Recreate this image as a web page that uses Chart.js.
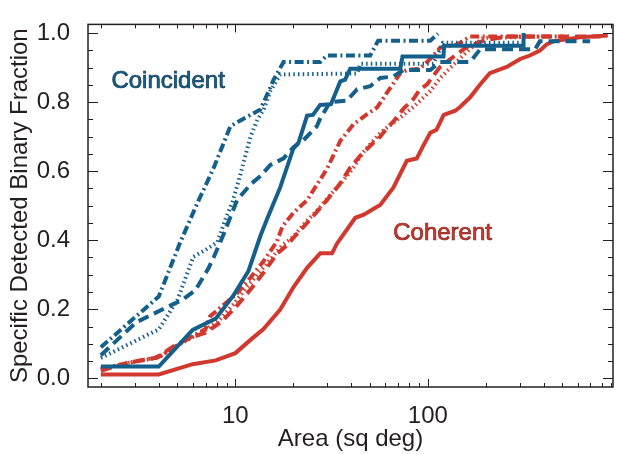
<!DOCTYPE html>
<html>
<head>
<meta charset="utf-8">
<script src="https://cdn.jsdelivr.net/npm/chart.js@4"></script>
<style>
  html, body { margin: 0; padding: 0; background: #fff; }
  #wrap { width: 618px; height: 454px; position: relative; }
</style>
</head>
<body>
<div id="wrap"><canvas id="chartFraction"></canvas></div>
<script>
// ---- data ----
// Coincident (blue)
const coinSolidX   = [2.0, 4.0, 6.0, 7.9, 9.8, 11.7, 13.5, 14.6, 17.1, 20.0, 21.3, 23.6, 25.3, 27.6, 31.4, 35.1, 37.2, 39.5, 71.9, 73.9, 120.6, 121.6, 312.6, 314.5];
const coinSolidY   = [0.034, 0.034, 0.14, 0.173, 0.241, 0.311, 0.413, 0.461, 0.553, 0.665, 0.683, 0.761, 0.763, 0.792, 0.794, 0.860, 0.865, 0.897, 0.897, 0.932, 0.932, 0.963, 0.963, 1.0];
const coinDashX    = [2.0, 3.05, 4.33, 5.29, 6.2, 7.27, 7.71, 8.7, 10.2, 12.0, 13.5, 15.2, 17.8, 20.1, 22.6, 26.5, 27.6, 31.1, 37.9, 42.9, 50.2, 56.6, 66.0, 74.8, 103, 116, 166, 187, 361, 382, 697];
const coinDashY    = [0.067, 0.162, 0.204, 0.227, 0.255, 0.32, 0.35, 0.418, 0.516, 0.562, 0.586, 0.618, 0.637, 0.670, 0.690, 0.73, 0.753, 0.80, 0.804, 0.837, 0.846, 0.87, 0.874, 0.893, 0.893, 0.916, 0.916, 0.953, 0.953, 0.976, 0.976];
const coinDotX     = [2.0, 4.0, 5.0, 6.05, 7.0, 8.06, 8.87, 9.65, 10.6, 12.0, 13.0, 14.0, 15.2, 17.1, 43.0, 44.6, 106.8, 120, 310];
const coinDotY     = [0.059, 0.142, 0.227, 0.352, 0.372, 0.394, 0.46, 0.51, 0.589, 0.701, 0.749, 0.777, 0.832, 0.88, 0.883, 0.911, 0.911, 0.972, 0.972];
const coinDashDotX = [2.0, 4.0, 5.18, 6.33, 7.71, 9.42, 10.4, 12.0, 13.5, 14.9, 15.8, 17.8, 27.6, 29.9, 50.2, 55.2, 103, 113];
const coinDashDotY = [0.090, 0.237, 0.395, 0.506, 0.609, 0.730, 0.744, 0.763, 0.779, 0.832, 0.865, 0.916, 0.916, 0.935, 0.935, 0.978, 0.978, 0.998];

// Coherent (red)
const cohSolidX   = [2.0, 4.0, 6.0, 7.9, 10.0, 12.2, 14.0, 17.1, 20.1, 23.6, 27.6, 31.8, 33.7, 35.1, 42.0, 46.5, 54.5, 56.6, 66.3, 77.8, 87.6, 94.8, 103, 111, 121, 139, 147, 166, 187, 210, 257, 302, 339, 382, 414, 448, 617, 862];
const cohSolidY   = [0.011, 0.011, 0.041, 0.052, 0.073, 0.115, 0.143, 0.199, 0.265, 0.32, 0.362, 0.362, 0.39, 0.404, 0.465, 0.474, 0.497, 0.502, 0.553, 0.630, 0.637, 0.674, 0.711, 0.72, 0.763, 0.775, 0.786, 0.814, 0.851, 0.884, 0.902, 0.925, 0.935, 0.949, 0.967, 0.976, 0.988, 0.993];
const cohDashX    = [2.0, 2.8, 3.85, 4.9, 6.0, 7.0, 8.5, 10.0, 12.1, 14.2, 16.4, 18.5, 21, 24.5, 29.9, 35.1, 39.5, 44.6, 52.3, 56.6, 61.3, 66.3, 74.8, 84.2, 91, 99, 115, 135, 160, 200, 260, 790];
const cohDashY    = [0.022, 0.046, 0.059, 0.097, 0.12, 0.132, 0.165, 0.205, 0.26, 0.31, 0.36, 0.385, 0.42, 0.46, 0.516, 0.565, 0.61, 0.645, 0.683, 0.70, 0.725, 0.744, 0.781, 0.809, 0.837, 0.851, 0.9, 0.93, 0.96, 0.98, 0.99, 0.99];
const cohDotX     = [2.0, 2.8, 4.0, 4.8, 5.8, 7.0, 8.3, 9.8, 11.5, 13.5, 15.5, 17.5, 20, 23, 27, 31, 36, 41, 46.2, 56.6, 69.4, 84.2, 103, 116, 135, 152.6, 172, 194, 420];
const cohDotY     = [0.025, 0.045, 0.06, 0.09, 0.115, 0.14, 0.17, 0.215, 0.265, 0.31, 0.35, 0.385, 0.41, 0.45, 0.49, 0.53, 0.57, 0.61, 0.655, 0.711, 0.749, 0.786, 0.832, 0.87, 0.907, 0.935, 0.963, 0.986, 0.99];
const cohDashDotX = [2.0, 2.8, 4.0, 4.7, 5.7, 7.0, 7.4, 8.7, 10.2, 12.0, 14.0, 16.4, 17.6, 20.0, 23.6, 30.1, 35.1, 41.0, 48.4, 54.6, 61.5, 72, 78, 91, 103, 116, 142, 166, 505];
const cohDashDotY = [0.028, 0.045, 0.062, 0.087, 0.115, 0.143, 0.18, 0.213, 0.246, 0.292, 0.339, 0.395, 0.441, 0.479, 0.516, 0.609, 0.688, 0.735, 0.765, 0.785, 0.828, 0.884, 0.893, 0.897, 0.925, 0.958, 0.967, 0.99, 0.99];

// axes
const xTickValues = [10, 100];
const xMinorTicks = [2, 3, 4, 5, 6, 7, 8, 9, 10, 20, 30, 40, 50, 60, 70, 80, 90, 100, 200, 300, 400, 500, 600, 700, 800, 900];
const yTickValues = [0, 0.2, 0.4, 0.6, 0.8, 1.0];
const yMinorTicks = [0, 0.05, 0.1, 0.15, 0.2, 0.25, 0.3, 0.35, 0.4, 0.45, 0.5, 0.55, 0.6, 0.65, 0.7, 0.75, 0.8, 0.85, 0.9, 0.95, 1.0];

const BLUE = '#15608a';
const RED = '#d1392e';
const INK = '#231f20';
const FONT = '"Liberation Sans", Arial, Helvetica, sans-serif';

function pts(xs, ys) { return xs.map((x, i) => ({ x: x, y: ys[i] })); }

function line(data, color, dash, width) {
    return {
        data: data,
        borderColor: color,
        borderWidth: width || 4,
        borderDash: dash,
        borderCapStyle: 'butt',
        borderJoinStyle: 'miter',
        pointRadius: 0,
        fill: false,
        tension: 0,
    };
}

// inward ticks on all four sides, frame box and the two labels
const frameTicks = {
    id: 'frameTicks',
    afterDatasetsDraw(chart) {
        const { ctx, chartArea: a, scales: { x, y } } = chart;
        ctx.save();
        ctx.strokeStyle = INK;
        ctx.lineWidth = 1;
        ctx.beginPath();
        xMinorTicks.forEach(function(v) {
            const px = Math.round(x.getPixelForValue(v)) + 0.5;
            const len = xTickValues.includes(v) ? 8 : 4;
            ctx.moveTo(px, a.bottom); ctx.lineTo(px, a.bottom - len);
            ctx.moveTo(px, a.top); ctx.lineTo(px, a.top + len);
        });
        yMinorTicks.forEach(function(v, i) {
            const py = Math.round(y.getPixelForValue(v)) + 0.5;
            const len = (i % 4 === 0) ? 10 : 5;
            ctx.moveTo(a.left, py); ctx.lineTo(a.left + len, py);
            ctx.moveTo(a.right, py); ctx.lineTo(a.right - len, py);
        });
        ctx.stroke();
        ctx.lineWidth = 1.5;
        ctx.strokeRect(a.left, a.top, a.right - a.left, a.bottom - a.top);

        ctx.font = '24px ' + FONT;
        ctx.textAlign = 'left';
        ctx.textBaseline = 'alphabetic';
        ctx.lineWidth = 0.7;
        ctx.fillStyle = BLUE;
        ctx.strokeStyle = '#0b3550';
        ctx.fillText('Coincident', x.getPixelForValue(2.27), y.getPixelForValue(0.841));
        ctx.strokeText('Coincident', x.getPixelForValue(2.27), y.getPixelForValue(0.841));
        ctx.fillStyle = RED;
        ctx.strokeStyle = '#7a1c15';
        ctx.fillText('Coherent', x.getPixelForValue(66.1), y.getPixelForValue(0.402));
        ctx.strokeText('Coherent', x.getPixelForValue(66.1), y.getPixelForValue(0.402));
        ctx.restore();
    }
};

document.addEventListener('DOMContentLoaded', function() {
    const ctx = document.getElementById('chartFraction').getContext('2d');

    new Chart(ctx, {
        type: 'line',
        data: {
            datasets: [
                line(pts(coinSolidX, coinSolidY), BLUE, []),
                line(pts(coinDashX, coinDashY), BLUE, [11, 6]),
                line(pts(coinDotX, coinDotY), BLUE, [1.5, 3.2], 4),
                line(pts(coinDashDotX, coinDashDotY), BLUE, [9, 3.5, 2, 3.5]),
                line(pts(cohSolidX, cohSolidY), RED, []),
                line(pts(cohDashX, cohDashY), RED, [11, 6]),
                line(pts(cohDotX, cohDotY), RED, [1.5, 3.2], 4),
                line(pts(cohDashDotX, cohDashDotY), RED, [9, 3.5, 2, 3.5]),
            ]
        },
        options: {
            responsive: true,
            maintainAspectRatio: false,
            animation: false,
            devicePixelRatio: 1,
            layout: { padding: { top: 11, right: 5, left: 0, bottom: 0 } },
            plugins: {
                legend: { display: false },
                tooltip: { enabled: false }
            },
            scales: {
                x: {
                    type: 'logarithmic',
                    min: 1.715,
                    max: 917,
                    grid: { display: false },
                    border: { display: false },
                    afterBuildTicks: function(s) { s.ticks = xTickValues.map(v => ({ value: v })); },
                    afterFit: function(s) { s.height = 67; },
                    ticks: {
                        color: INK,
                        padding: 7,
                        autoSkip: false,
                        maxRotation: 0,
                        font: { size: 24, family: FONT },
                        callback: function(v) { return String(v); }
                    },
                    title: {
                        display: true,
                        text: 'Area (sq deg)',
                        color: INK,
                        padding: { top: 0, bottom: 0 },
                        font: { size: 24, family: FONT, lineHeight: 1.2 }
                    }
                },
                y: {
                    min: -0.0251,
                    max: 1.0251,
                    grid: { display: false },
                    border: { display: false },
                    afterBuildTicks: function(s) { s.ticks = yTickValues.map(v => ({ value: v })); },
                    afterFit: function(s) { s.width = 88; },
                    ticks: {
                        color: INK,
                        padding: 10,
                        font: { size: 24, family: FONT },
                        callback: function(v) { return v.toFixed(1); }
                    },
                    title: {
                        display: true,
                        text: 'Specific Detected Binary Fraction',
                        color: INK,
                        padding: { top: 6, bottom: 0 },
                        font: { size: 24, family: FONT, lineHeight: 1.2 }
                    }
                }
            }
        },
        plugins: [frameTicks]
    });
});
</script>
</body>
</html>
